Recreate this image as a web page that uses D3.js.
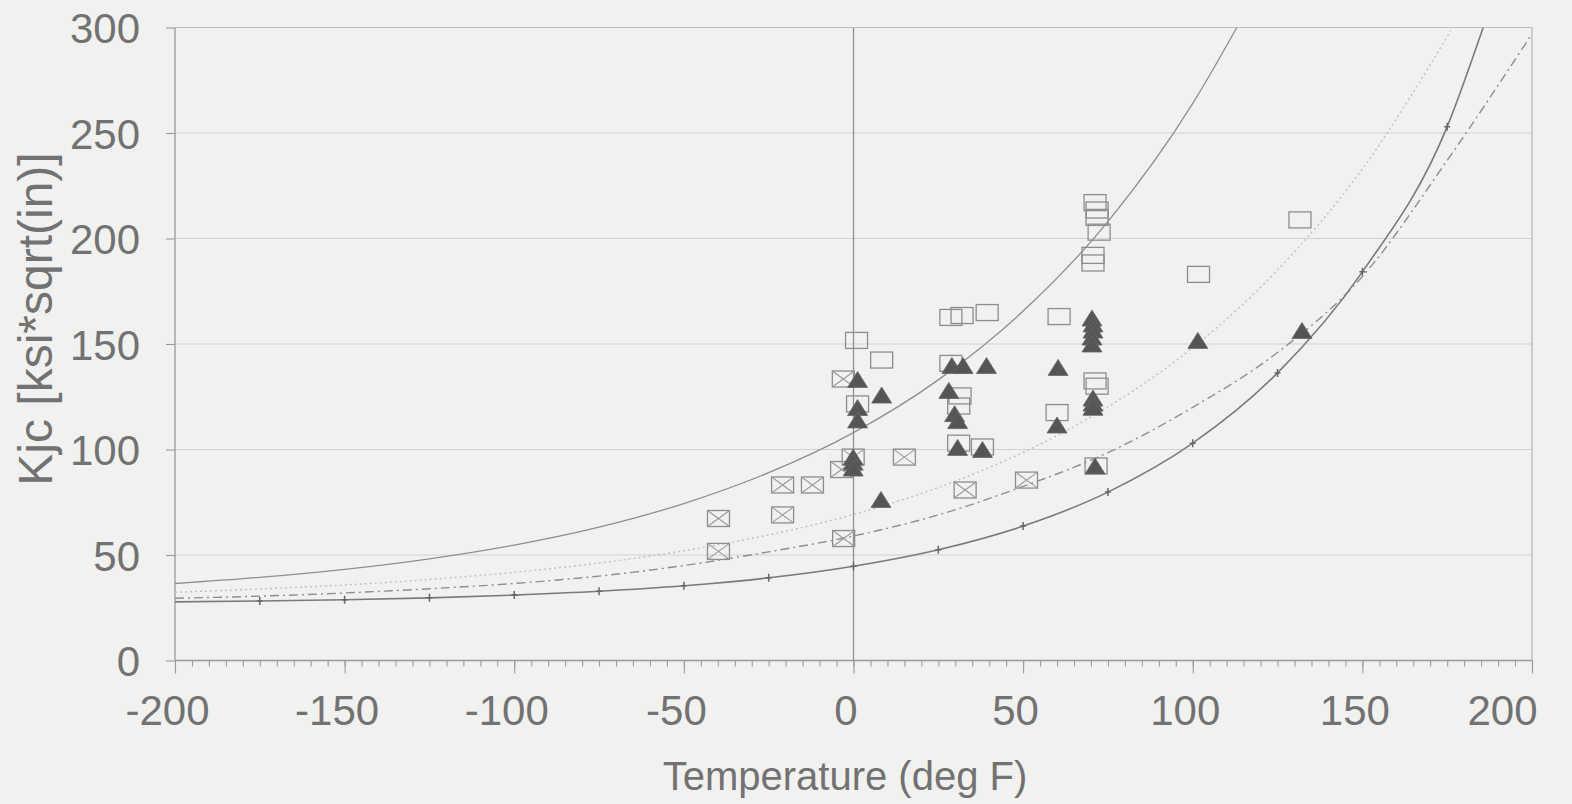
<!DOCTYPE html>
<html>
<head>
<meta charset="utf-8">
<script src="https://cdn.jsdelivr.net/npm/d3@7"></script>
<style>
  body { margin: 0; background: #f1f1f0; }
  text { font-family: "Liberation Sans", Arial, sans-serif; fill: #727272; }
</style>
</head>
<body>
<div id="viz"></div>
<script>
// ---- data ----
// curves (temperature in deg F, Kjc in ksi*sqrt(in))
var medianT = [-200, -175, -150, -125, -100, -75, -50, -25, 0, 25, 50, 75, 100, 113];
var medianK = [36.5, 39.4, 43.2, 48.2, 54.7, 63.2, 74.4, 89, 108, 133, 165.6, 208, 264, 300];

var dottedT = [-200, -175, -150, -125, -100, -75, -50, -25, 0, 25, 50, 75, 100, 125, 150, 176];
var dottedK = [32.3, 33.9, 35.8, 38.4, 41.8, 46.2, 52.0, 59.5, 69.2, 82.0, 98.6, 120.2, 148.3, 185.1, 233.0, 298.3];

var kirT = [-200, -175, -150, -125, -100, -75, -50, -25, 0, 25, 50, 75, 100, 125, 150, 175, 185.6];
var kirK = [27.8, 28.2, 28.8, 29.7, 31.0, 32.8, 35.4, 39.2, 44.7, 52.5, 63.7, 79.8, 103, 136.3, 184.2, 253, 300];

var dashT = [-200, -175, -150, -125, -100, -75, -50, -25, 0, 25, 50, 75, 100, 125, 150, 175, 200];
var dashK = [29.5, 30.5, 32, 34, 36.5, 40, 45, 51.5, 59, 69, 82.5, 98.5, 120, 146, 182, 237, 297];

// open squares
var openT = [0.9, 8.3, 1.2, 28.7, 32, 39.4, 60.6, 28.7, 31.4, 31, 31, 38, 60, 71.2, 71.8, 71.8, 72.4, 70.6, 70.6, 101.7, 131.6, 71.2, 71.8, 71.5];
var openK = [151.7, 142.4, 121.6, 162.6, 163.5, 164.9, 163, 140.8, 125.4, 120.6, 103, 101.2, 117.5, 217, 213.5, 210, 203, 192, 188.4, 183, 208.8, 132.5, 130, 92.2];

// crossed squares
var crossT = [-3, -0.1, -3.5, -20.9, -12.1, -20.9, -39.8, -39.8, -2.9, 15, 32.9, 51];
var crossK = [133.4, 96.4, 90.5, 83.2, 83.2, 69, 67.3, 51.7, 57.8, 96.4, 80.8, 85.5];

// filled triangles
var triT = [1.2, 8.3, 1.2, 1.2, -0.1, -0.1, -0.1, 8.1, 29, 32.3, 39.2, 28.1, 29.8, 30.7, 30.7, 38, 60.3, 60, 70.3, 70.6, 70.6, 70.3, 70.3, 70.6, 70.6, 70.6, 71.2, 101.5, 132.2];
var triK = [133.2, 125.8, 119.9, 114, 96.4, 94, 91.2, 76.3, 139.8, 139.8, 139.8, 128, 117, 113.7, 101, 100, 138.9, 111.6, 162.3, 159.5, 156.6, 153.3, 150, 124.4, 122, 120, 92.2, 151.7, 156.4];

var xTicks = [-200, -150, -100, -50, 0, 50, 100, 150, 200];
var yTicks = [0, 50, 100, 150, 200, 250, 300];

// ---- svg ----
var width = 1572, height = 804;
var svg = d3.select('#viz').append('svg')
  .attr('width', width)
  .attr('height', height);

svg.append('rect').attr('width', width).attr('height', height).attr('fill', '#f1f1f0');

var x = d3.scaleLinear().domain([-200, 200]).range([175, 1532]);
var y = d3.scaleLinear().domain([0, 300]).range([660.5, 27.5]);

svg.append('clipPath').attr('id', 'plot')
  .append('rect')
  .attr('x', x(-200)).attr('y', y(300))
  .attr('width', x(200) - x(-200)).attr('height', y(0) - y(300));

// horizontal gridlines
svg.append('g')
  .selectAll('line')
  .data(yTicks.filter(function (d) { return d > 0; }))
  .enter().append('line')
  .attr('x1', x(-200)).attr('x2', x(200))
  .attr('y1', function (d) { return y(d); })
  .attr('y2', function (d) { return y(d); })
  .attr('stroke', '#d2d2d2')
  .attr('stroke-width', 1.2);

// right border and zero line
svg.append('line')
  .attr('x1', x(200)).attr('x2', x(200)).attr('y1', y(300)).attr('y2', y(0))
  .attr('stroke', '#b4b4b4').attr('stroke-width', 1.2);
svg.append('line')
  .attr('x1', x(0)).attr('x2', x(0)).attr('y1', y(300)).attr('y2', y(0))
  .attr('stroke', '#909090').attr('stroke-width', 1.3);

// axes
var xMinor = svg.append('g')
  .attr('transform', 'translate(0,' + y(0) + ')')
  .call(d3.axisBottom(x).tickValues(d3.range(-200, 201, 5)).tickSize(6).tickFormat(''));
var xAxis = svg.append('g')
  .attr('transform', 'translate(0,' + y(0) + ')')
  .call(d3.axisBottom(x).tickValues(xTicks).tickSize(13).tickPadding(22)
    .tickFormat(function (d) { return String(d); }));
var yAxis = svg.append('g')
  .attr('transform', 'translate(' + x(-200) + ',0)')
  .call(d3.axisLeft(y).tickValues(yTicks).tickSize(9).tickPadding(26)
    .tickFormat(function (d) { return String(d); }));

[xMinor, xAxis, yAxis].forEach(function (g) {
  g.selectAll('path').attr('stroke', '#9a9a9a').attr('stroke-width', 1.3);
  g.selectAll('line').attr('stroke', '#9a9a9a').attr('stroke-width', 1.1);
});
xAxis.selectAll('text')
  .attr('font-size', 42)
  .attr('dx', function (d) { return d === 200 ? -30 : -8; })
  .style('font-family', '"Liberation Sans", Arial, sans-serif')
  .attr('fill', '#727272');
yAxis.selectAll('text')
  .attr('font-size', 42)
  .attr('dy', '0.36em')
  .style('font-family', '"Liberation Sans", Arial, sans-serif')
  .attr('fill', '#727272');
yAxis.select('.domain').attr('d', 'M0,' + y(0) + 'V' + y(300));
xAxis.select('.domain').attr('d', 'M' + x(-200) + ',0H' + x(200));
xMinor.select('.domain').remove();

// top border
svg.append('line')
  .attr('x1', x(-200)).attr('x2', x(200)).attr('y1', y(300)).attr('y2', y(300))
  .attr('stroke', '#bdbdbd').attr('stroke-width', 1.2);

// axis titles
svg.append('text')
  .attr('x', 845).attr('y', 790)
  .attr('text-anchor', 'middle')
  .attr('font-size', 40)
  .text('Temperature (deg F)');
svg.append('text')
  .attr('transform', 'translate(52,319) rotate(-90)')
  .attr('text-anchor', 'middle')
  .attr('font-size', 48)
  .text('Kjc [ksi*sqrt(in)]');

// curves
var line = d3.line()
  .x(function (d) { return x(d[0]); })
  .y(function (d) { return y(d[1]); })
  .curve(d3.curveMonotoneX);

var curves = svg.append('g').attr('clip-path', 'url(#plot)');

function drawCurve(ts, ks, color, w, dash) {
  var pts = d3.zip(ts, ks);
  curves.append('path')
    .datum(pts)
    .attr('d', line)
    .attr('fill', 'none')
    .attr('stroke', color)
    .attr('stroke-width', w)
    .attr('stroke-dasharray', dash);
  return pts;
}

drawCurve(dottedT, dottedK, '#c0c0c0', 1.4, '2,3');
drawCurve(dashT, dashK, '#8e8e8e', 1.4, '9,4,2,4');
drawCurve(medianT, medianK, '#8e8e8e', 1.3, null);
var kirPts = drawCurve(kirT, kirK, '#7a7a7a', 1.6, null);

// small tick marks on the lower solid curve
curves.selectAll('.kmark')
  .data(kirPts.slice(1, kirPts.length - 1))
  .enter().append('path')
  .attr('class', 'kmark')
  .attr('d', function (d) {
    var px = x(d[0]), py = y(d[1]);
    return 'M' + px + ',' + (py - 4) + 'V' + (py + 4) + 'M' + (px - 3) + ',' + py + 'H' + (px + 3);
  })
  .attr('stroke', '#666')
  .attr('stroke-width', 1.5);

// markers
var bw = 22, bh = 16;

svg.append('g').selectAll('rect')
  .data(d3.zip(openT, openK))
  .enter().append('rect')
  .attr('x', function (d) { return x(d[0]) - bw / 2; })
  .attr('y', function (d) { return y(d[1]) - bh / 2; })
  .attr('width', bw).attr('height', bh)
  .attr('fill', 'none')
  .attr('stroke', '#8d8d8d')
  .attr('stroke-width', 1.3);

var crossG = svg.append('g').selectAll('g')
  .data(d3.zip(crossT, crossK))
  .enter().append('g')
  .attr('transform', function (d) { return 'translate(' + x(d[0]) + ',' + y(d[1]) + ')'; });
crossG.append('rect')
  .attr('x', -bw / 2).attr('y', -bh / 2)
  .attr('width', bw).attr('height', bh)
  .attr('fill', 'none')
  .attr('stroke', '#8d8d8d')
  .attr('stroke-width', 1.3);
crossG.append('path')
  .attr('d', 'M' + (-bw / 2) + ',' + (-bh / 2) + 'L' + (bw / 2) + ',' + (bh / 2) +
             'M' + (bw / 2) + ',' + (-bh / 2) + 'L' + (-bw / 2) + ',' + (bh / 2))
  .attr('stroke', '#9a9a9a')
  .attr('stroke-width', 1.1);

var tw = 20, th = 16;
svg.append('g').selectAll('path')
  .data(d3.zip(triT, triK))
  .enter().append('path')
  .attr('d', function (d) {
    var px = x(d[0]), py = y(d[1]);
    return 'M' + px + ',' + (py - th / 2) + 'L' + (px + tw / 2) + ',' + (py + th / 2) +
           'L' + (px - tw / 2) + ',' + (py + th / 2) + 'Z';
  })
  .attr('fill', '#555')
  .attr('stroke', '#666')
  .attr('stroke-width', 0.8);
</script>
</body>
</html>
